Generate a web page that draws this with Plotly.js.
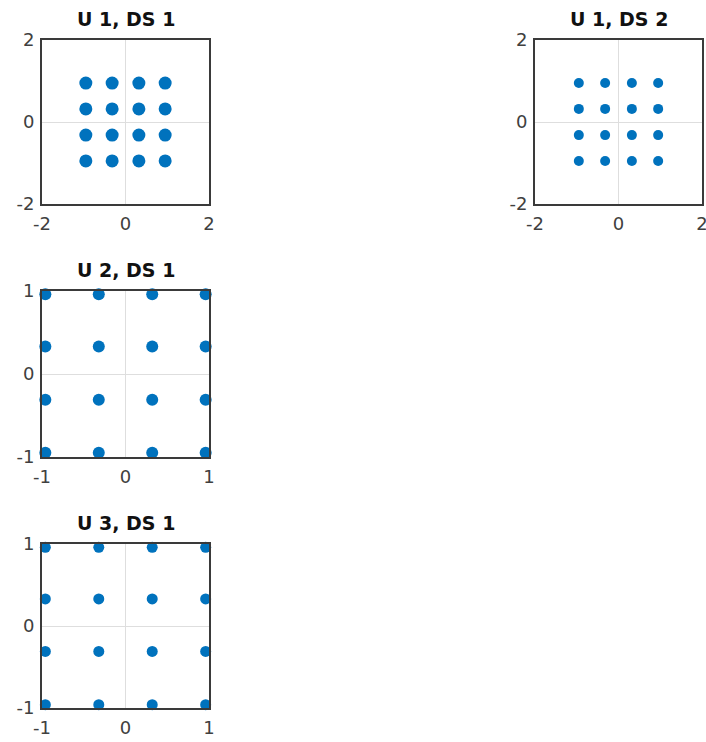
<!DOCTYPE html>
<html>
<head>
<meta charset="utf-8">
<script src="https://cdn.plot.ly/plotly-3.0.1.min.js"></script>
<style>
	html, body { margin: 0; padding: 0; background: #fff; }
	#chart { width: 706px; height: 742px; }
</style>
</head>
<body>
<div id="chart"></div>
<script>
const titles = ['U 1, DS 1', 'U 1, DS 2', 'U 2, DS 1', 'U 3, DS 1']

// received symbol clusters (in-phase / quadrature)
const u1ds1I = [-0.95, -0.32, 0.32, 0.95, -0.95, -0.32, 0.32, 0.95, -0.95, -0.32, 0.32, 0.95, -0.95, -0.32, 0.32, 0.95]
const u1ds1Q = [0.95, 0.95, 0.95, 0.95, 0.32, 0.32, 0.32, 0.32, -0.32, -0.32, -0.32, -0.32, -0.95, -0.95, -0.95, -0.95]

const u1ds2I = [-0.95, -0.32, 0.32, 0.95, -0.95, -0.32, 0.32, 0.95, -0.95, -0.32, 0.32, 0.95, -0.95, -0.32, 0.32, 0.95]
const u1ds2Q = [0.95, 0.95, 0.95, 0.95, 0.32, 0.32, 0.32, 0.32, -0.32, -0.32, -0.32, -0.32, -0.95, -0.95, -0.95, -0.95]

const u2ds1I = [-0.96, -0.32, 0.32, 0.96, -0.96, -0.32, 0.32, 0.96, -0.96, -0.32, 0.32, 0.96, -0.96, -0.32, 0.32, 0.96]
const u2ds1Q = [0.96, 0.96, 0.96, 0.96, 0.33, 0.33, 0.33, 0.33, -0.31, -0.31, -0.31, -0.31, -0.95, -0.95, -0.95, -0.95]

const u3ds1I = [-0.96, -0.32, 0.32, 0.96, -0.96, -0.32, 0.32, 0.96, -0.96, -0.32, 0.32, 0.96, -0.96, -0.32, 0.32, 0.96]
const u3ds1Q = [0.96, 0.96, 0.96, 0.96, 0.33, 0.33, 0.33, 0.33, -0.31, -0.31, -0.31, -0.31, -0.96, -0.96, -0.96, -0.96]

const limits = [2, 2, 1, 1]

const W = 706
const H = 742
// plot boxes in pixels: [left, top, right, bottom]
const boxes = [
	[42, 40, 209, 204],
	[535, 40, 702, 204],
	[42, 291, 209, 457],
	[42, 544, 209, 708],
]
const markerSizes = [13, 10, 12, 11]
const blue = 'rgb(0, 114, 189)'

function axisStyle(lim, domain) {
	return {
		domain: domain,
		range: [-lim, lim],
		tickvals: [-lim, 0, lim],
		ticktext: [String(-lim), '0', String(lim)],
		showgrid: true,
		gridcolor: '#dedede',
		gridwidth: 1,
		zeroline: false,
		showline: true,
		mirror: true,
		linecolor: '#3a3a3a',
		linewidth: 2,
		ticks: '',
		ticklabelstandoff: 2,
		ticklabeloverflow: 'allow',
		fixedrange: true,
		tickfont: { family: 'DejaVu Sans, sans-serif', size: 18, color: '#404040' },
	}
}

function createCharts() {
	const series = [
		[u1ds1I, u1ds1Q],
		[u1ds2I, u1ds2Q],
		[u2ds1I, u2ds1Q],
		[u3ds1I, u3ds1Q],
	]

	const traces = series.map(function (s, i) {
		return {
			x: s[0],
			y: s[1],
			type: 'scatter',
			mode: 'markers',
			xaxis: 'x' + (i === 0 ? '' : i + 1),
			yaxis: 'y' + (i === 0 ? '' : i + 1),
			cliponaxis: false,
			marker: { color: blue, size: markerSizes[i] },
			hoverinfo: 'x+y',
		}
	})

	const layout = {
		width: W,
		height: H,
		margin: { l: 0, r: 0, t: 0, b: 0 },
		showlegend: false,
		paper_bgcolor: '#fff',
		plot_bgcolor: '#fff',
		annotations: [],
	}

	boxes.forEach(function (b, i) {
		const suffix = i === 0 ? '' : i + 1
		const xd = [b[0] / W, b[2] / W]
		const yd = [1 - b[3] / H, 1 - b[1] / H]
		const xa = axisStyle(limits[i], xd)
		const ya = axisStyle(limits[i], yd)
		xa.anchor = 'y' + suffix
		ya.anchor = 'x' + suffix
		layout['xaxis' + suffix] = xa
		layout['yaxis' + suffix] = ya
		layout.annotations.push({
			text: '<b>' + titles[i] + '</b>',
			xref: 'paper',
			yref: 'paper',
			x: (xd[0] + xd[1]) / 2,
			y: 1 - (b[1] - 21) / H,
			xanchor: 'center',
			yanchor: 'middle',
			showarrow: false,
			font: { family: 'DejaVu Sans, sans-serif', size: 19, color: '#111' },
		})
	})

	Plotly.newPlot('chart', traces, layout, { displayModeBar: false, staticPlot: true })
}

window.onload = createCharts
</script>
</body>
</html>
